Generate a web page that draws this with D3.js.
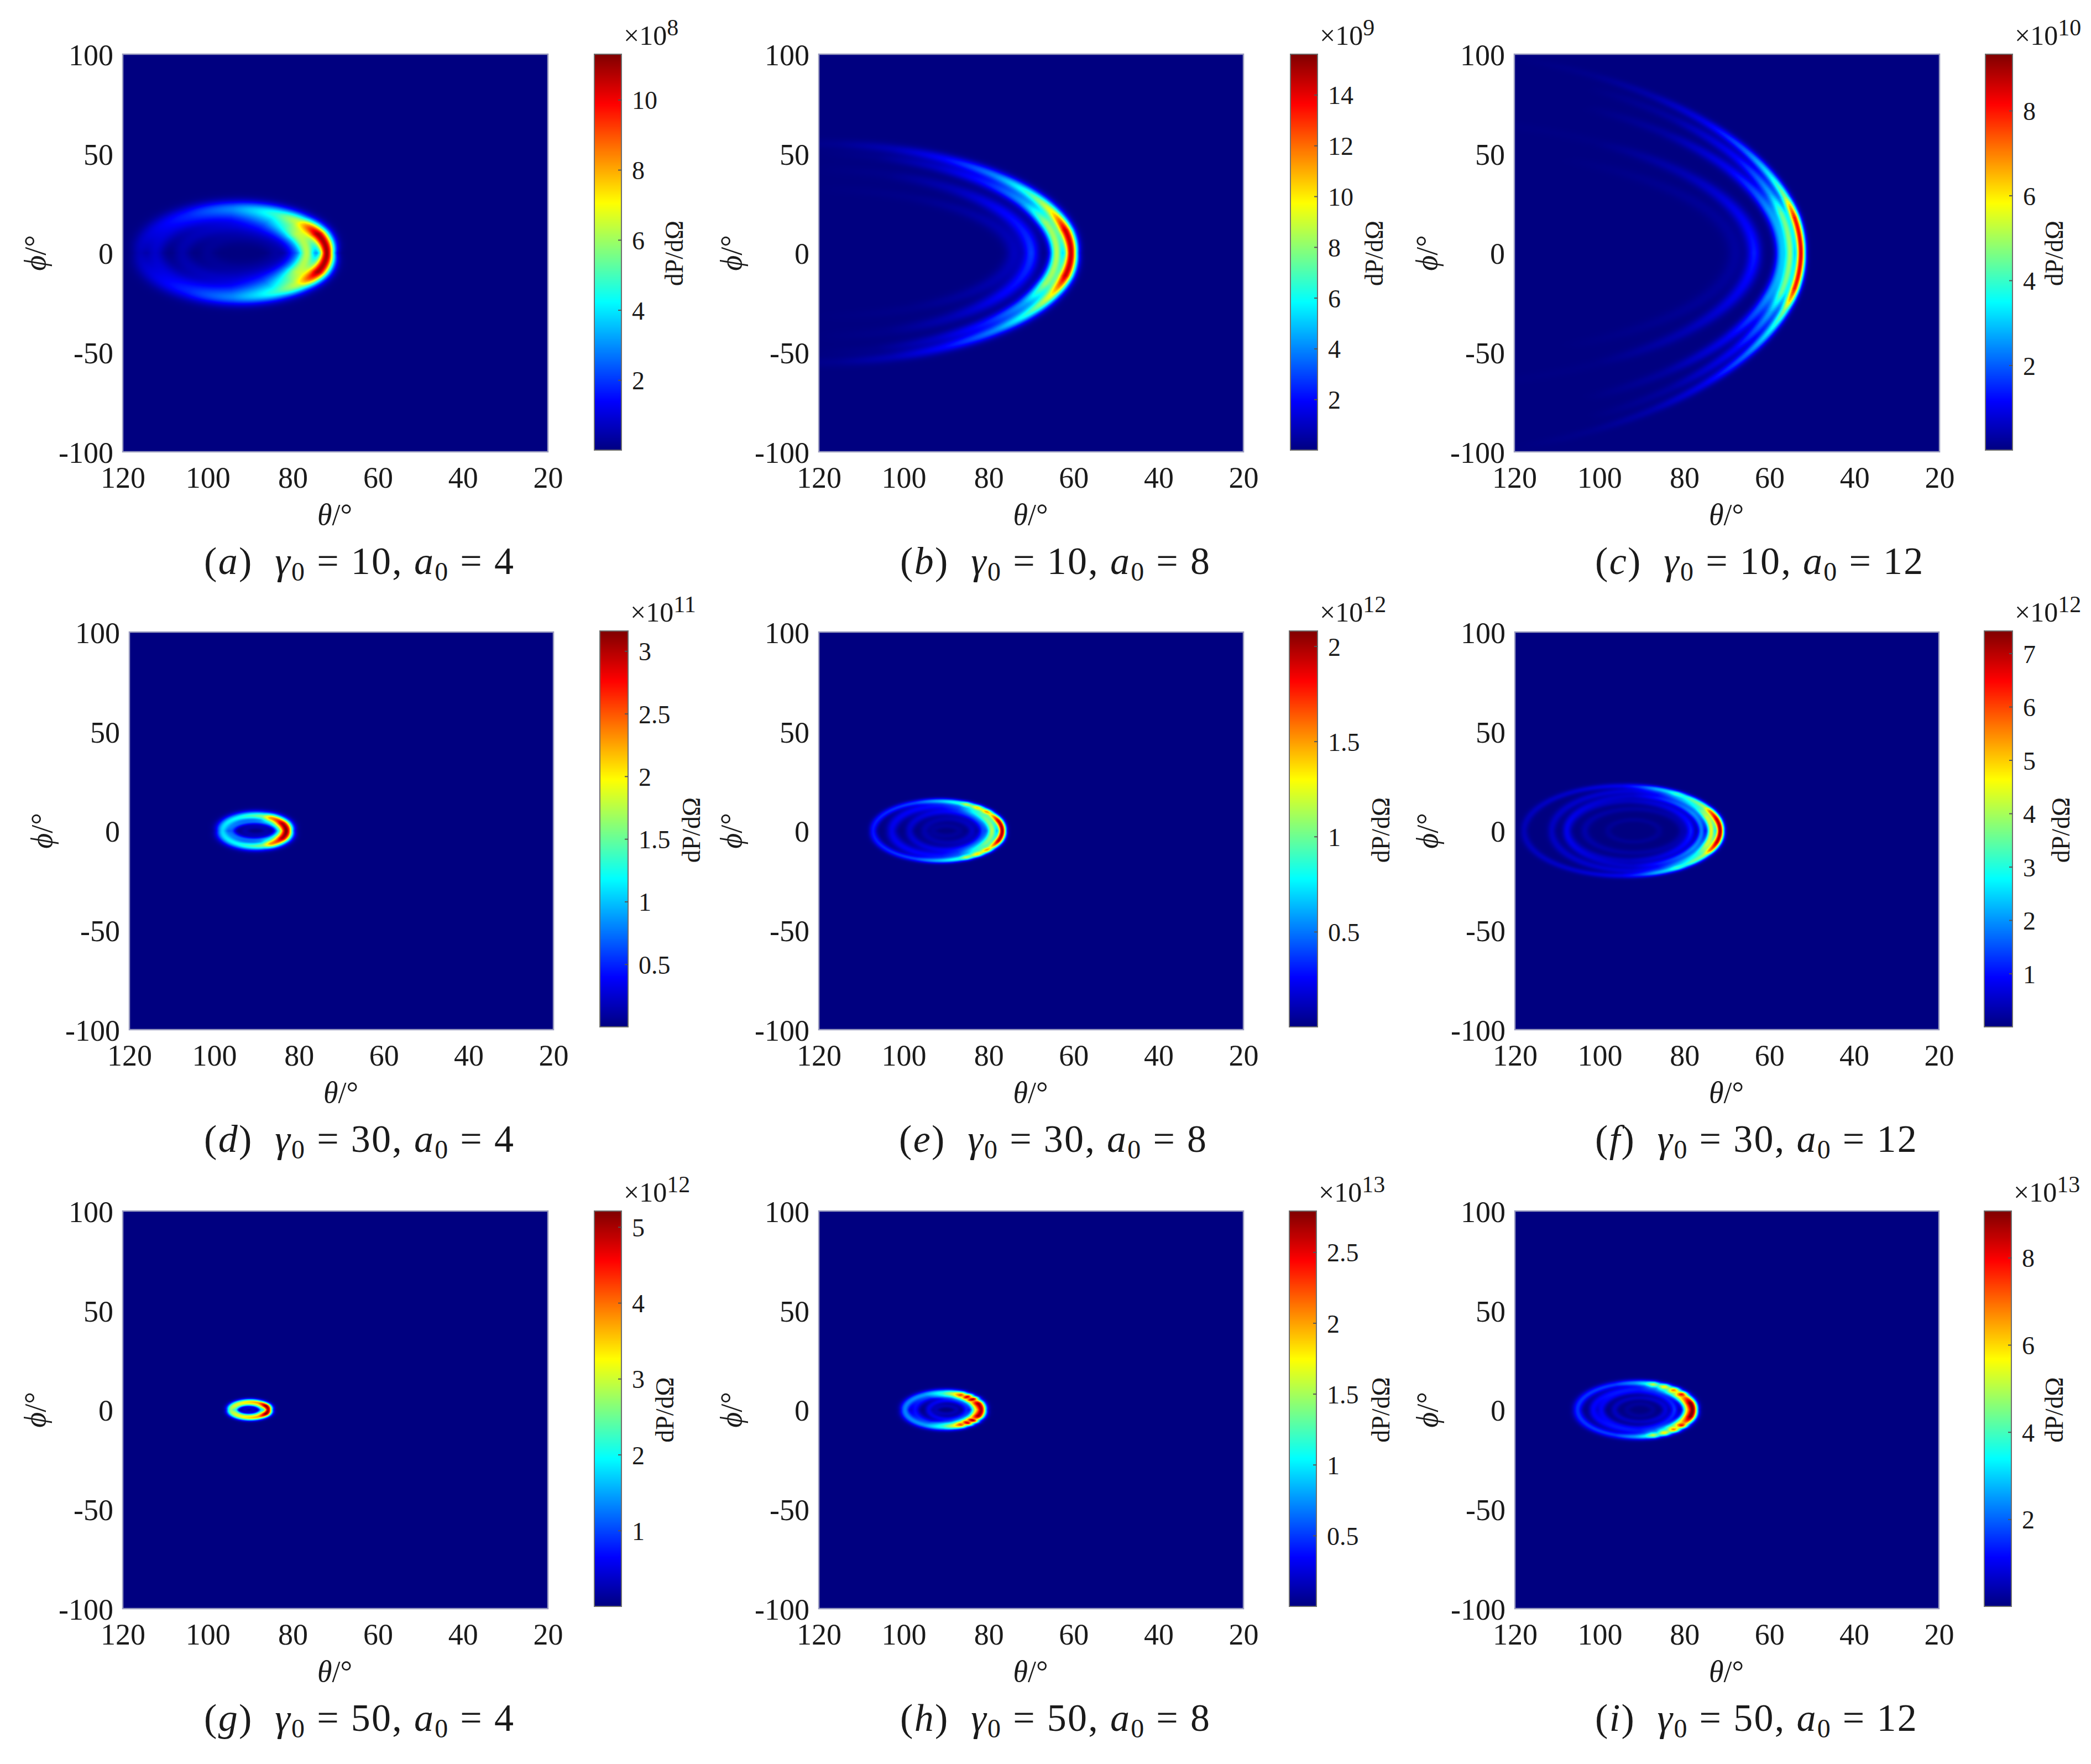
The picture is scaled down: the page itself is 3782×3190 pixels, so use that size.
<!DOCTYPE html>
<html><head><meta charset="utf-8">
<script src="https://cdn.jsdelivr.net/npm/d3@7"></script>
<style>html,body{margin:0;padding:0;background:#fff}svg{display:block}text{font-family:"Liberation Serif",serif;fill:#1a1a1a}</style>
</head><body>
<svg id="fig" width="3782" height="3190"></svg>
<script>
// ---------- data ----------
const thetaTicks = [120,100,80,60,40,20];
const phiTicks = [-100,-50,0,50,100];
const panelLetters = ["a","b","c","d","e","f","g","h","i"];
const gamma0 = [10,10,10,30,30,30,50,50,50];
const a0 = [4,8,12,4,8,12,4,8,12];
const cbarMax = [11.3,15.6,9.33,3.16,2.08,7.42,5.21,2.79,9.07];
const cbarExp = [8,9,10,11,12,12,12,13,13];
const cbarTicks = [[2,4,6,8,10],[2,4,6,8,10,12,14],[2,4,6,8],[0.5,1,1.5,2,2.5,3],[0.5,1,1.5,2],[1,2,3,4,5,6,7],[1,2,3,4,5],[0.5,1,1.5,2,2.5],[2,4,6,8]];
// each ring: [centre theta, theta semi-axis, phi semi-axis, width, [[angle on the ring, fraction of colour-bar max], ...]]
const ringsA = [
 [94,22,23,.055,[[0,.97],[25,.92],[35,.72],[45,.48],[60,.34],[75,.25],[90,.18],[120,.1],[150,.07],[180,.05]]],
 [94.5,17.8,19,.08,[[0,.55],[30,.5],[45,.36],[60,.24],[90,.14],[140,.09],[180,.07]]],
 [93,13,13,.1,[[0,.13],[90,.06],[180,.04]]],
 [92,8,8,.16,[[0,.03],[180,.02]]]];
const ringsB = [
 [121,60.4,55,.017,[[0,.93],[12,.92],[22,.62],[33,.42],[45,.25],[60,.12],[72,.05],[85,.015],[90,.01]]],
 [121,57,50,.018,[[0,.55],[18,.5],[30,.27],[45,.14],[60,.06],[75,.01],[90,0]]],
 [121,51,42,.024,[[0,.18],[30,.12],[50,.05],[70,.01],[90,0]]],
 [121,47,32,.028,[[0,.06],[30,.04],[60,.01],[90,0]]]];
const ringsC = [
 [150,97.4,103,.0075,[[0,.9],[10,.85],[13,.7],[16,.5],[22,.36],[30,.22],[40,.1],[50,.04],[60,.012],[72,0],[90,0]]],
 [150,94.9,96,.0085,[[0,.5],[12,.45],[18,.28],[30,.12],[45,.03],[60,0],[90,0]]],
 [150,92.8,85,.01,[[0,.3],[15,.26],[30,.11],[45,.03],[60,0],[90,0]]],
 [150,86.4,68,.013,[[0,.15],[20,.1],[35,.05],[55,.005],[90,0]]],
 [150,82,55,.016,[[0,.03],[30,.02],[60,0]]]];
const ringsD = [
 [90.5,7.5,7.6,.135,[[0,1],[30,.95],[40,.85],[50,.78],[60,.72],[75,.5],[90,.45],[120,.38],[180,.33]]],
 [90.4,5.4,4.4,.13,[[0,.2],[90,.17],[180,.17]]],
 [90.2,2.5,2,.3,[[0,.04],[180,.04]]]];
const ringsE = [
 [92,15.2,15,.04,[[0,.97],[20,.9],[28,.72],[34,.56],[40,.65],[46,.5],[52,.58],[58,.44],[64,.5],[70,.36],[80,.32],[90,.27],[110,.18],[180,.14]]],
 [91,11.8,12.5,.07,[[0,.55],[30,.47],[50,.36],[70,.18],[90,.13],[180,.1]]],
 [90,8.6,9.5,.08,[[0,.17],[90,.1],[180,.07]]],
 [89.5,5.6,6,.12,[[0,.07],[90,.045],[180,.04]]],
 [90,3,2.5,.25,[[0,.025],[180,.025]]]];
const ringsF = [
 [94.7,23.1,22.6,.027,[[0,.97],[15,.92],[26,.72],[32,.5],[38,.44],[44,.4],[50,.34],[56,.38],[62,.3],[70,.26],[80,.16],[90,.1],[120,.07],[180,.05]]],
 [92.5,18.8,20,.036,[[0,.6],[20,.55],[35,.36],[50,.26],[70,.12],[90,.08],[180,.06]]],
 [92,16,17.5,.036,[[0,.24],[30,.24],[50,.18],[90,.06],[180,.04]]],
 [93,14.5,15,.05,[[0,.15],[90,.055],[180,.07]]],
 [92,11.5,11,.06,[[0,.04],[90,.03],[180,.04]]],
 [92,6,5.5,.1,[[0,.02],[180,.02]]]];
const ringsG = [
 [90.2,4.4,4.1,.15,[[0,.95],[30,1],[45,.85],[60,.7],[90,.62],[120,.55],[180,.5]]],
 [90.4,3,2.7,.16,[[0,.3],[90,.3],[180,.3]]],
 [90.3,1,.8,.6,[[0,.07],[180,.07]]]];
const ringsH = [
 [90.7,9,8.8,.085,[[0,.92],[22,.88],[32,.62],[38,.88],[44,.62],[50,.82],[56,.58],[62,.7],[75,.48],[90,.34],[120,.26],[180,.25]]],
 [90.3,7,7,.1,[[0,.45],[40,.42],[60,.36],[75,.28],[90,.26],[120,.13],[180,.13]]],
 [89.7,4.4,4.6,.13,[[0,.14],[90,.11],[180,.1]]],
 [90,2.4,2,.25,[[0,.05],[180,.05]]]];
const ringsI = [
 [91.6,13.6,13.5,.055,[[0,.95],[15,.92],[25,.72],[30,.62],[36,.8],[42,.52],[48,.7],[54,.48],[60,.62],[66,.42],[72,.55],[80,.36],[90,.27],[110,.18],[180,.17]]],
 [90.5,11,10.8,.065,[[0,.5],[30,.45],[50,.34],[70,.18],[90,.11],[180,.12]]],
 [91,8.6,9,.075,[[0,.17],[90,.09],[180,.11]]],
 [90.5,6,6,.1,[[0,.09],[90,.06],[180,.06]]],
 [90.5,3,3,.2,[[0,.025],[180,.025]]]];
const panelRings = [ringsA,ringsB,ringsC,ringsD,ringsE,ringsF,ringsG,ringsH,ringsI];
// how much broader a ring looks at its top than at its right-hand vertex
const ringWiden = [1,.9,.8,.5,.6,.6,.5,.5,.5];

// ---------- layout ----------
const plotX = [[222,991],[1481,2249],[2739,3508],[234,1001],[1481,2249],[2740,3507],[222,991],[1481,2249],[2740,3507]];
const plotY = [[98,817],[1143,1862],[2190,2909]];
const cbarX = [[1075,1124],[2334,2383],[3591,3640],[1085,1136],[2332,2383],[3589,3640],[1075,1124],[2332,2381],[3589,3638]];
const cbarY = [[98,814],[1141,1857],[2190,2905]];
const cbarTitleDx = [97,104,77,116,116,89,80,118,79];
const capX = [369,1628,2885,369,1626,2885,369,1628,2885];
const capY = [1038,2083,3130];

const jet = d3.scaleLinear().domain([0,.125,.375,.625,.875,1])
  .range(["#000080","#0000ff","#00ffff","#ffff00","#ff0000","#800000"]).clamp(true);

function heatImage(rings,x,y,w,h,vmax,color,widen){
  const cv=document.createElement("canvas");cv.width=w;cv.height=h;
  const ctx=cv.getContext("2d"),img=ctx.createImageData(w,h);
  const lut=d3.range(1025).map(i=>d3.rgb(color(i/1024*vmax)));
  const tables=rings.map(r=>{const s=d3.scaleLinear(r[4].map(p=>p[0]),r[4].map(p=>p[1])).clamp(true);return d3.range(361).map(i=>s(i/2));});
  const x0=x.range()[0],y0=y.range()[1];
  for(let py=0;py<h;py++){
    const phi=y.invert(y0+py+.5);
    for(let px=0;px<w;px++){
      const th=x.invert(x0+px+.5);
      let f=0;
      for(let k=0;k<rings.length;k++){
        const R=rings[k],u=(R[0]-th)/R[1],v=phi/R[2],rr=Math.sqrt(u*u+v*v)||1e-6;
        const sinA=Math.abs(v)/rr,d=(rr-1)/(R[3]*(1+widen*sinA));
        if(Math.abs(d)>5)continue;
        const ang=Math.abs(Math.atan2(v,u))*180/Math.PI;
        f+=tables[k][Math.round(ang*2)]*Math.exp(-.5*d*d);
      }
      const c=lut[Math.min(1024,Math.round(f*1024))],o=(py*w+px)*4;
      img.data[o]=c.r;img.data[o+1]=c.g;img.data[o+2]=c.b;img.data[o+3]=255;
    }
  }
  ctx.putImageData(img,0,0);
  return cv.toDataURL("image/png");
}

const svg=d3.select("#fig");
const tickFont=54,cbFont=46;
panelRings.forEach((rings,i)=>{
  const row=Math.floor(i/3);
  const x=d3.scaleLinear().domain([120,20]).range(plotX[i]);
  const y=d3.scaleLinear().domain([-100,100]).range([plotY[row][1],plotY[row][0]]);
  const w=plotX[i][1]-plotX[i][0],h=plotY[row][1]-plotY[row][0];
  const g=svg.append("g").attr("class","panel");
  const vmax=cbarMax[i];
  const color=v=>jet(v/vmax);
  g.append("image").attr("x",plotX[i][0]).attr("y",plotY[row][0]).attr("width",w).attr("height",h)
    .attr("href",heatImage(rings,x,y,w,h,vmax,color,ringWiden[i]));
  g.append("rect").attr("x",plotX[i][0]).attr("y",plotY[row][0]).attr("width",w).attr("height",h)
    .attr("fill","none").attr("stroke","#9a9cc0").attr("stroke-width",2.5);
  const ax=g.append("g").attr("transform",`translate(0,${plotY[row][1]})`)
    .call(d3.axisBottom(x).tickValues(thetaTicks).tickSize(0).tickPadding(27).tickFormat(String));
  const ay=g.append("g").attr("transform",`translate(${plotX[i][0]},0)`)
    .call(d3.axisLeft(y).tickValues(phiTicks).tickSize(0).tickPadding(17).tickFormat(String));
  [ax,ay].forEach(a=>{a.select(".domain").remove();a.selectAll("text").attr("font-size",tickFont).attr("font-family","Liberation Serif").attr("fill","#1a1a1a");});
  ay.selectAll("text").attr("dy","0.36em");
  g.append("text").attr("x",(plotX[i][0]+plotX[i][1])/2-1).attr("y",plotY[row][1]+132).attr("text-anchor","middle").attr("font-size",54)
    .html('<tspan font-style="italic">θ</tspan>/°');
  g.append("text").attr("transform",`translate(${plotX[i][0]-140},${(plotY[row][0]+plotY[row][1])/2}) rotate(-90)`).attr("text-anchor","middle").attr("font-size",54)
    .html('<tspan font-style="italic">ϕ</tspan>/°');
  const cy=d3.scaleLinear().domain([0,vmax]).range([cbarY[row][1],cbarY[row][0]]);
  const cx=cbarX[i];
  const steps=d3.range(0,256).map(k=>k/256*vmax);
  g.append("g").selectAll("rect").data(steps).join("rect")
    .attr("x",cx[0]).attr("width",cx[1]-cx[0])
    .attr("y",d=>cy(d+vmax/256)-.5).attr("height",d=>cy(d)-cy(d+vmax/256)+1)
    .attr("fill",d=>color(d+vmax/512));
  g.append("rect").attr("x",cx[0]).attr("y",cbarY[row][0]).attr("width",cx[1]-cx[0]).attr("height",cbarY[row][1]-cbarY[row][0])
    .attr("fill","none").attr("stroke","#6e6e6e").attr("stroke-width",2);
  const ac=g.append("g").attr("transform",`translate(${cx[1]},0)`)
    .call(d3.axisRight(cy).tickValues(cbarTicks[i]).tickSize(-6).tickPadding(19).tickFormat(String));
  ac.select(".domain").remove();
  ac.selectAll("line").attr("stroke","#555").attr("stroke-width",2);
  ac.selectAll("text").attr("font-size",cbFont).attr("font-family","Liberation Serif").attr("fill","#1a1a1a").attr("dy","0.36em");
  g.append("text").attr("transform",`translate(${cx[1]+cbarTitleDx[i]+14},${(cbarY[row][0]+cbarY[row][1])/2+2}) rotate(-90)`).attr("text-anchor","middle").attr("font-size",46)
    .text("dP/dΩ");
  g.append("text").attr("x",cx[1]+4).attr("y",cbarY[row][0]-17).attr("font-size",50)
    .html(`×10<tspan font-size="42" dy="-17">${cbarExp[i]}</tspan>`);
  g.append("text").attr("x",capX[i]).attr("y",capY[row]).attr("font-size",70).attr("letter-spacing",2.3).attr("xml:space","preserve")
    .html(`(<tspan font-style="italic">${panelLetters[i]}</tspan>)  <tspan font-style="italic">γ</tspan><tspan font-size="48" dy="12">0</tspan><tspan dy="-12"> = ${gamma0[i]}, </tspan><tspan font-style="italic">a</tspan><tspan font-size="48" dy="12">0</tspan><tspan dy="-12"> = ${a0[i]}</tspan>`);
});
</script>
</body></html>
